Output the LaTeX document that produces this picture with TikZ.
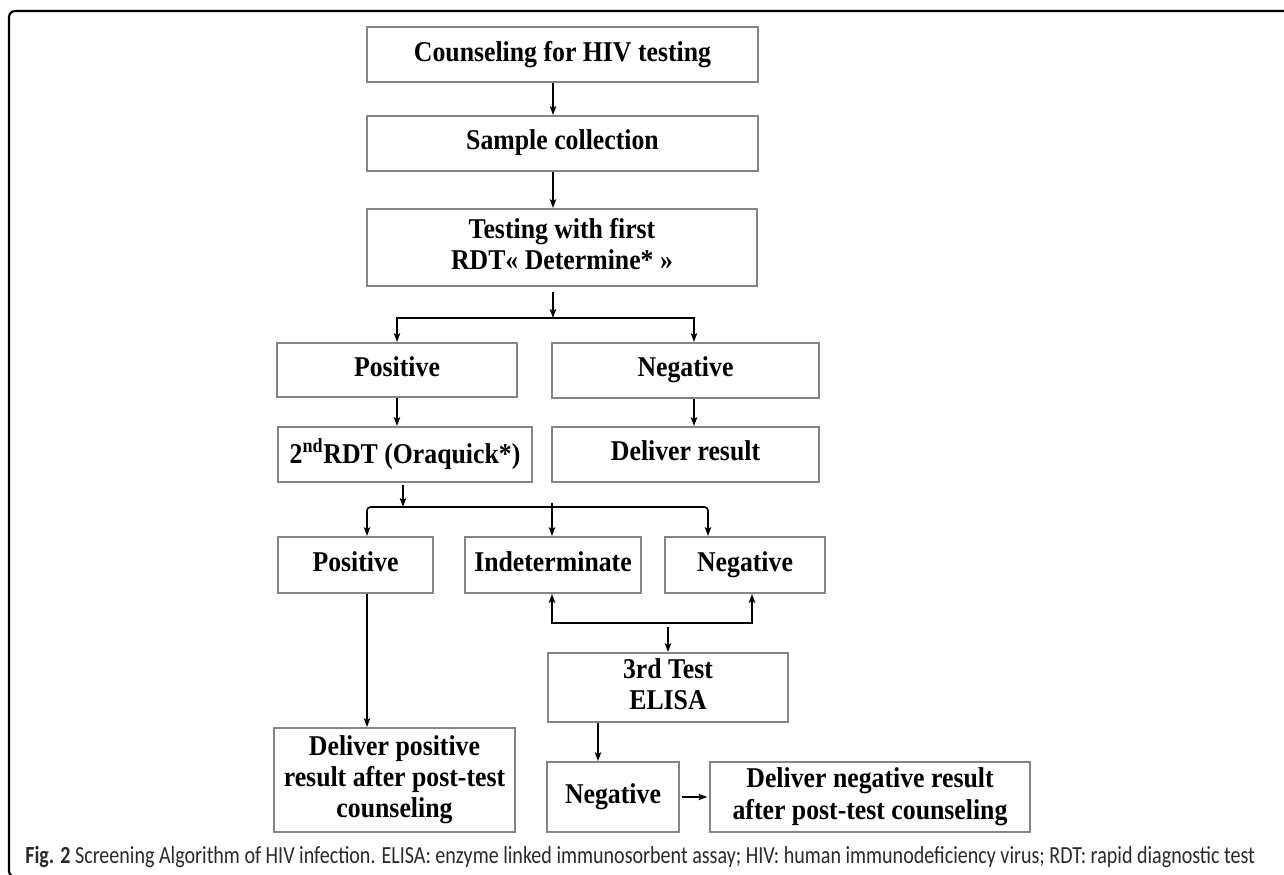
\documentclass[tikz,border=0pt]{standalone}
\usepackage{fontspec}
\setmainfont{Liberation Serif}[FakeStretch=0.9]
\newfontfamily\capfont{Carlito}
\usetikzlibrary{arrows.meta}
\definecolor{boxgray}{HTML}{858585}
\definecolor{captext}{HTML}{2A2A2A}
\newcommand\mystrut{\rule[-0.25em]{0pt}{0.95em}}
\begin{document}
\begin{tikzpicture}[x=0.02cm,y=-0.02cm,
  box/.style={draw=boxgray, line width=1.1pt, inner sep=0pt, align=center,
    font=\fontsize{16.3}{17.8}\selectfont\bfseries,
    execute at begin node=\mystrut, execute at end node=\mystrut},
  arr/.style={line width=0.9pt, -{Stealth[length=5pt,width=3.6pt,inset=1pt]}},
  arrboth/.style={line width=0.9pt, {Stealth[length=5pt,width=3.6pt,inset=1pt]}-{Stealth[length=5pt,width=3.6pt,inset=1pt]}},
  ln/.style={line width=0.9pt}]
\useasboundingbox (0,0) rectangle (1284,875);
\begin{scope}
  \clip (0,0) rectangle (1284,875);
  \draw[line width=1.2pt, rounded corners=3.5pt] (9,11) rectangle (1300,877);
\end{scope}

% boxes
\node[box, minimum width=7.82cm, minimum height=1.10cm] (c1) at (562.5,54.5) {Counseling for HIV testing};
\node[box, minimum width=7.82cm, minimum height=1.10cm] (c2) at (562.5,143.5) {Sample collection};
\node[box, minimum width=7.80cm, minimum height=1.54cm] (c3) at (562,247.5) {Testing with first\\RDT« Determine* »};
\node[box, minimum width=4.80cm, minimum height=1.08cm] (pos1) at (397,370) {Positive};
\node[box, minimum width=5.34cm, minimum height=1.10cm] (neg1) at (685.5,370.5) {Negative};
\node[box, minimum width=5.08cm, minimum height=1.10cm] (rdt2) at (405,454.5) {2\textsuperscript{nd}RDT (Oraquick*)};
\node[box, minimum width=5.34cm, minimum height=1.10cm] (deliv) at (685.5,454.5) {Deliver result};
\node[box, minimum width=3.10cm, minimum height=1.12cm] (pos2) at (355.5,565) {Positive};
\node[box, minimum width=3.52cm, minimum height=1.12cm] (ind) at (553,565) {Indeterminate};
\node[box, minimum width=3.20cm, minimum height=1.12cm] (neg2) at (745,565) {Negative};
\node[box, minimum width=4.80cm, minimum height=1.38cm] (elisa) at (668,687.5) {3rd Test\\ELISA};
\node[box, minimum width=4.82cm, minimum height=2.08cm] (delpos) at (394.5,780) {Deliver positive\\result after post-test\\counseling};
\node[box, minimum width=2.64cm, minimum height=1.40cm] (neg3) at (613,797) {Negative};
\node[box, minimum width=6.40cm, minimum height=1.40cm] (delneg) at (870,797) {Deliver negative result\\after post-test counseling};

% helper coordinates
\coordinate (a1) at (553,0);
\coordinate (j1) at (553,318);
\coordinate (j1l) at (397,318);
\coordinate (j1r) at (694,318);
\coordinate (j2) at (403,507);
\coordinate (j2l) at (367,507);
\coordinate (j2r) at (708,507);
\coordinate (j2m) at (552,503);
\coordinate (k1) at (552,623);
\coordinate (k2) at (752,623);
\coordinate (k3) at (668,627);
\coordinate (e1) at (598,0);

% connectors
\draw[arr] (c1.south -| a1) -- (c2.north -| a1);
\draw[arr] (c2.south -| a1) -- (c3.north -| a1);
\draw[arr] ([yshift=-3pt]c3.south -| j1) -- (j1);
\draw[arrboth] (pos1.north -| j1l) -- (j1l) -- (j1r) -- (neg1.north -| j1r);
\draw[arr] (pos1.south -| j1l) -- (rdt2.north -| j1l);
\draw[arr] (neg1.south -| j1r) -- (deliv.north -| j1r);

\draw[arr] ([yshift=-1pt]rdt2.south -| j2) -- (j2);
\draw[arrboth, rounded corners=2pt] (pos2.north -| j2l) -- (j2l) -- (j2r) -- (neg2.north -| j2r);
\draw[arr] (j2m) -- (ind.north -| j2m);

\draw[arr] (pos2.south -| j2l) -- (delpos.north -| j2l);
\draw[arrboth] (ind.south -| k1) -- (k1) -- (k2) -- (neg2.south -| k2);
\draw[arr] (k3) -- (elisa.north -| k3);
\draw[arr] (elisa.south -| e1) -- (neg3.north -| e1);
\draw[arr, shorten <=1pt, shorten >=1pt] (neg3.east) -- (delneg.west);

% caption
\node[anchor=base west, inner sep=0pt, text=captext] (cap) at (25,863)
  {\resizebox{24.6cm}{\height}{\capfont\fontsize{14}{16}\selectfont\textbf{Fig. 2} Screening Algorithm of HIV infection. ELISA: enzyme linked immunosorbent assay; HIV: human immunodeficiency virus; RDT: rapid diagnostic test}};
\end{tikzpicture}
\end{document}
